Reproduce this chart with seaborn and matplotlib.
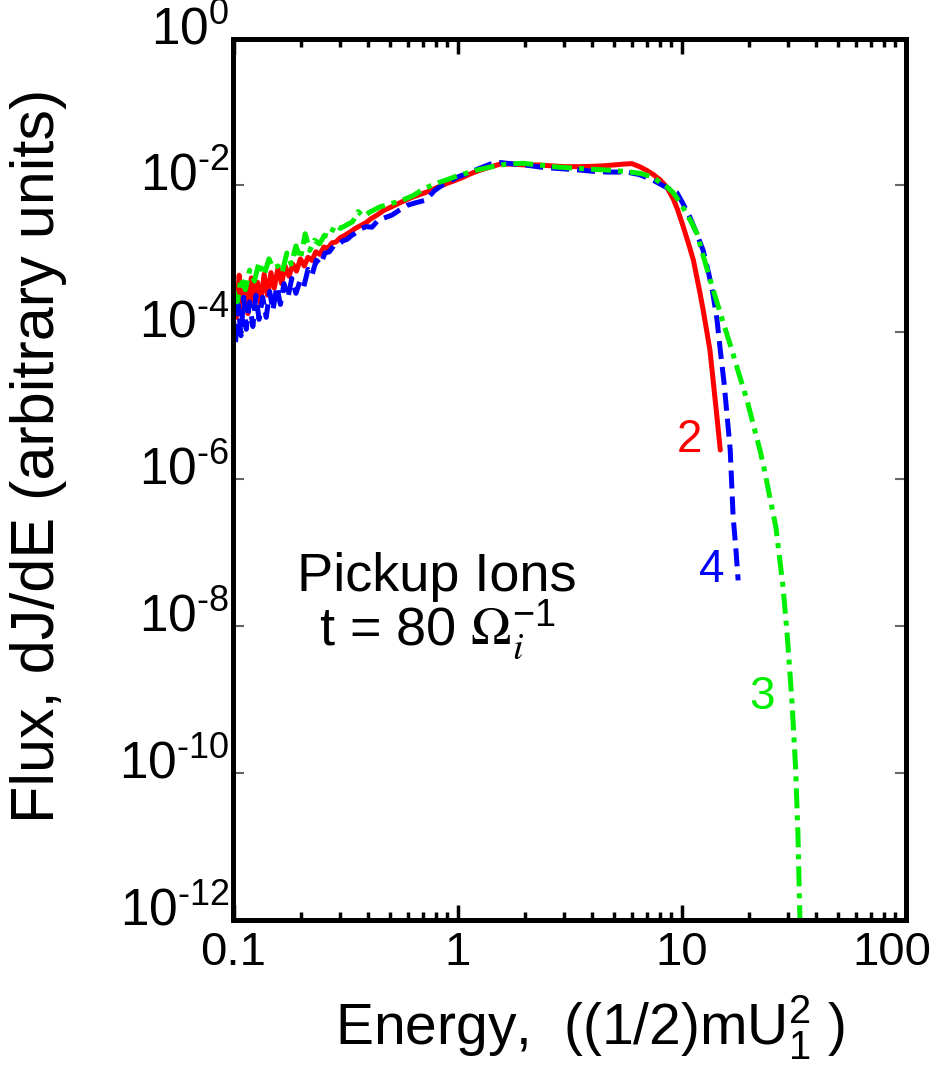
import numpy as np
import pandas as pd
import matplotlib
matplotlib.use("Agg")
import matplotlib.pyplot as plt
import matplotlib.transforms as mtrans
import seaborn as sns
from matplotlib.ticker import LogLocator, NullFormatter, FixedLocator

# ---------------- data ----------------
energy_2 = [0.100, 0.103, 0.106, 0.109, 0.112, 0.116, 0.120, 0.124, 0.128, 0.132,
            0.137, 0.142, 0.147, 0.152, 0.158, 0.164, 0.170, 0.177, 0.184, 0.191,
            0.199, 0.207, 0.215, 0.224, 0.233, 0.243, 0.253, 0.264, 0.275, 0.287,
            0.300, 0.315, 0.33, 0.35, 0.37, 0.39, 0.41, 0.44, 0.47, 0.50,
            0.54, 0.58, 0.62, 0.67, 0.72, 0.78, 0.84, 0.90, 0.97, 1.05,
            1.15, 1.25, 1.4, 1.55, 1.75, 2.0, 2.3, 2.6, 3.0, 3.5,
            4.0, 4.5, 5.0, 5.5, 6.0, 6.5, 7.0, 7.5, 8.0, 8.6,
            9.2, 9.6, 10.2, 10.9, 11.3, 12.1, 12.5, 13.4, 14.4, 14.9]
flux_2 = [2.8e-4, 1.6e-4, 6.0e-4, 2.2e-4, 4.5e-4, 1.8e-4, 5.5e-4, 2.6e-4, 4.8e-4, 2.4e-4,
          6.2e-4, 3.2e-4, 6.5e-4, 4.0e-4, 7.5e-4, 4.6e-4, 8.0e-4, 5.8e-4, 8.5e-4, 6.8e-4,
          1.0e-3, 8.0e-4, 1.05e-3, 9.5e-4, 1.25e-3, 1.15e-3, 1.45e-3, 1.40e-3, 1.65e-3, 1.7e-3,
          1.95e-3, 2.1e-3, 2.3e-3, 2.6e-3, 2.85e-3, 3.1e-3, 3.5e-3, 4.0e-3, 4.6e-3, 5.0e-3,
          5.6e-3, 6.2e-3, 6.8e-3, 7.4e-3, 8.0e-3, 8.9e-3, 9.8e-3, 1.07e-2, 1.16e-2, 1.28e-2,
          1.45e-2, 1.6e-2, 1.78e-2, 1.95e-2, 1.95e-2, 1.9e-2, 1.9e-2, 1.85e-2, 1.8e-2, 1.8e-2,
          1.82e-2, 1.85e-2, 1.9e-2, 1.95e-2, 1.98e-2, 1.8e-2, 1.6e-2, 1.4e-2, 1.2e-2, 9.5e-3,
          6.5e-3, 4.7e-3, 2.7e-3, 1.4e-3, 9.6e-4, 3.4e-4, 2.0e-4, 5.7e-5, 7.0e-6, 2.5e-6]

energy_4 = [0.100, 0.102, 0.105, 0.108, 0.111, 0.114, 0.118, 0.122, 0.126, 0.130,
            0.135, 0.140, 0.145, 0.150, 0.156, 0.162, 0.168, 0.175, 0.182, 0.190,
            0.198, 0.206, 0.215, 0.224, 0.234, 0.245, 0.256, 0.268, 0.280, 0.293,
            0.307, 0.322, 0.338, 0.355, 0.373, 0.392, 0.415, 0.44, 0.47, 0.51,
            0.55, 0.60, 0.65, 0.72, 0.79, 0.87, 0.95, 1.0, 1.1, 1.25,
            1.4, 1.55, 1.8, 2.0, 2.33, 2.8, 3.5, 4.0, 4.65, 5.2,
            5.7, 6.5, 7.46, 8.5, 9.55, 10.2, 10.9, 11.7, 12.5, 13.2,
            13.8, 14.4, 14.9, 15.5, 16.0, 16.5, 17.0, 17.5, 17.9]
flux_4 = [1.5e-4, 7.0e-5, 2.4e-4, 9.0e-5, 3.0e-4, 1.1e-4, 2.6e-4, 1.2e-4, 3.2e-4, 1.5e-4,
          3.0e-4, 1.6e-4, 3.6e-4, 2.0e-4, 4.2e-4, 2.4e-4, 4.6e-4, 3.0e-4, 5.4e-4, 3.4e-4,
          5.0e-4, 4.2e-4, 7.2e-4, 6.0e-4, 9.6e-4, 8.4e-4, 1.2e-3, 1.25e-3, 1.5e-3, 1.55e-3,
          1.75e-3, 1.85e-3, 2.1e-3, 2.3e-3, 2.6e-3, 2.75e-3, 2.7e-3, 3.3e-3, 3.6e-3, 3.95e-3,
          4.6e-3, 5.4e-3, 5.8e-3, 6.3e-3, 8.5e-3, 1.05e-2, 1.2e-2, 1.3e-2, 1.45e-2, 1.7e-2,
          1.95e-2, 2.05e-2, 1.95e-2, 1.9e-2, 1.78e-2, 1.7e-2, 1.62e-2, 1.56e-2, 1.52e-2, 1.52e-2,
          1.52e-2, 1.4e-2, 1.18e-2, 9.5e-3, 7.9e-3, 5.5e-3, 3.7e-3, 2.2e-3, 1.3e-3, 6.5e-4,
          3.4e-4, 1.5e-4, 5.7e-5, 2.0e-5, 7.0e-6, 2.5e-6, 3.1e-7, 1.1e-7, 4.2e-8]

energy_3 = [0.100, 0.104, 0.108, 0.113, 0.118, 0.124, 0.130, 0.137, 0.144, 0.150,
            0.158, 0.165, 0.173, 0.181, 0.190, 0.199, 0.209, 0.219, 0.230, 0.242,
            0.255, 0.268, 0.284, 0.300, 0.320, 0.340, 0.360, 0.380, 0.41, 0.45,
            0.50, 0.56, 0.63, 0.70, 0.79, 0.90, 1.0, 1.08, 1.2, 1.4,
            1.65, 1.96, 2.3, 2.78, 3.3, 4.0, 4.65, 5.3, 5.9, 6.6,
            7.46, 8.0, 8.62, 9.17, 9.8, 10.5, 11.1, 11.7, 12.5, 13.4,
            14.3, 15.5, 16.8, 18.2, 19.6, 21.0, 22.4, 23.3, 24.8, 26.4,
            27.5, 28.4, 29.6, 30.4, 31.1, 32.3, 33.1, 33.5, 33.8, 34.1]
flux_3 = [3.8e-4, 2.6e-4, 5.5e-4, 3.8e-4, 7.0e-4, 5.0e-4, 9.0e-4, 6.0e-4, 1.0e-3, 7.5e-4,
          8.0e-4, 6.5e-4, 1.2e-3, 8.5e-4, 1.5e-3, 1.0e-3, 2.2e-3, 1.3e-3, 1.8e-3, 1.6e-3,
          2.1e-3, 2.0e-3, 2.9e-3, 2.6e-3, 2.9e-3, 3.2e-3, 4.4e-3, 3.8e-3, 4.4e-3, 5.1e-3,
          5.6e-3, 6.2e-3, 7.2e-3, 8.8e-3, 1.05e-2, 1.2e-2, 1.35e-2, 1.45e-2, 1.6e-2, 1.78e-2,
          1.95e-2, 2.0e-2, 1.9e-2, 1.78e-2, 1.72e-2, 1.66e-2, 1.62e-2, 1.57e-2, 1.52e-2, 1.45e-2,
          1.3e-2, 1.1e-2, 9.5e-3, 8.0e-3, 6.0e-3, 4.2e-3, 3.1e-3, 2.25e-3, 1.1e-3, 5.3e-4,
          2.75e-4, 1.24e-4, 5.7e-5, 2.5e-5, 1.2e-5, 5.3e-6, 2.5e-6, 1.47e-6, 5.7e-7, 2.2e-7,
          7.8e-8, 3.4e-8, 8e-9, 2.6e-9, 9.9e-10, 1.2e-10, 1.5e-11, 3e-12, 1e-12, 3e-13]

x_ticks = [0.1, 1, 10, 100]
x_tick_labels = ["0.1", "1", "10", "100"]
y_ticks = [1e0, 1e-2, 1e-4, 1e-6, 1e-8, 1e-10, 1e-12]
y_exponents = ["0", "\u20102", "\u20104", "\u20106", "\u20108", "\u201010", "\u201012"]
y_tick_labels = [r"$\mathregular{10^{%s}}$" % e for e in y_exponents]

# ---------------- style ----------------
sns.set_style("white")
plt.rcParams["font.family"] = ["Liberation Sans", "DejaVu Sans"]
plt.rcParams["mathtext.fontset"] = "custom"
plt.rcParams["mathtext.rm"] = "Liberation Sans"
plt.rcParams["mathtext.it"] = "Liberation Serif:italic"
plt.rcParams["mathtext.bf"] = "Liberation Sans:bold"
for k in ["text.color", "axes.labelcolor", "xtick.color", "ytick.color",
          "xtick.labelcolor", "ytick.labelcolor"]:
    plt.rcParams[k] = "black"

fig = plt.figure(figsize=(9.45, 10.7), dpi=100)
ax = fig.add_axes([233.5 / 945, 1 - 920 / 1070, 672 / 945, 881.5 / 1070])

df2 = pd.DataFrame({"E": energy_2, "F": flux_2})
df4 = pd.DataFrame({"E": energy_4, "F": flux_4})
df3 = pd.DataFrame({"E": energy_3, "F": flux_3})

lw = 3.6
sns.lineplot(data=df2, x="E", y="F", ax=ax, color="#ff0000", linewidth=lw,
             estimator=None, sort=False, linestyle="-")
sns.lineplot(data=df4, x="E", y="F", ax=ax, color="#0000ff", linewidth=lw,
             estimator=None, sort=False, linestyle=(0, (3.6, 1.6)))
sns.lineplot(data=df3, x="E", y="F", ax=ax, color="#00ee00", linewidth=lw,
             estimator=None, sort=False, linestyle=(0, (4.0, 1.4, 1.0, 1.4)))

ax.set_xscale("log")
ax.set_yscale("log")
ax.set_xlim(0.1, 100)
ax.set_ylim(1e-12, 1e0)

ax.xaxis.set_major_locator(FixedLocator(x_ticks))
ax.set_xticklabels(x_tick_labels)
ax.xaxis.set_minor_locator(LogLocator(base=10, subs=np.arange(2, 10)))
ax.xaxis.set_minor_formatter(NullFormatter())
ax.yaxis.set_major_locator(FixedLocator(y_ticks))
ax.set_yticklabels(y_tick_labels)
ax.yaxis.set_minor_locator(FixedLocator([]))

ax.tick_params(axis="x", which="major", direction="in", length=11, width=2.5,
               color="black", labelcolor="black", top=True, bottom=True,
               labelsize=34, pad=8)
ax.tick_params(axis="x", which="minor", direction="in", length=6, width=2.5,
               color="black", top=True, bottom=True)
ax.tick_params(axis="y", which="major", direction="in", length=8, width=1.5,
               color="#666666", labelcolor="black", left=True, right=True,
               labelsize=37, pad=3)

# nudge tick labels like the reference
up = mtrans.ScaledTranslation(0, 10 / 72, fig.dpi_scale_trans)
for lbl in ax.get_yticklabels():
    lbl.set_transform(lbl.get_transform() + up)
left = mtrans.ScaledTranslation(-10 / 72, 0, fig.dpi_scale_trans)
xl = ax.get_xticklabels()
xl[-1].set_transform(xl[-1].get_transform() + left)

for sp in ax.spines.values():
    sp.set_linewidth(3.6)
    sp.set_color("black")
    sp.set_visible(True)

ax.set_xlabel(r"Energy,  ((1/2)mU$\mathregular{_1^2}$ )", fontsize=41)
ax.set_ylabel("Flux, dJ/dE (arbitrary units)", fontsize=44)
ax.xaxis.set_label_coords(0.531, -0.083)
ax.yaxis.set_label_coords(-0.248, 0.527)

ax.text(10.9, 3.4e-6, "2", color="#ff0000", fontsize=33, ha="center", va="center")
ax.text(13.7, 5.8e-8, "4", color="#0000ff", fontsize=33, ha="center", va="center")
ax.text(22.9, 1.08e-9, "3", color="#00ee00", fontsize=33, ha="center", va="center")
ax.text(0.303, 0.389, "Pickup Ions", transform=ax.transAxes, fontsize=39,
        ha="center", va="center")
ax.text(0.303, 0.329, r"t = 80 $\Omega_i^{\mathregular{-1}}$", math_fontfamily="stix",
        transform=ax.transAxes, fontsize=39, ha="center", va="center")

fig.savefig("out.png", dpi=100)
